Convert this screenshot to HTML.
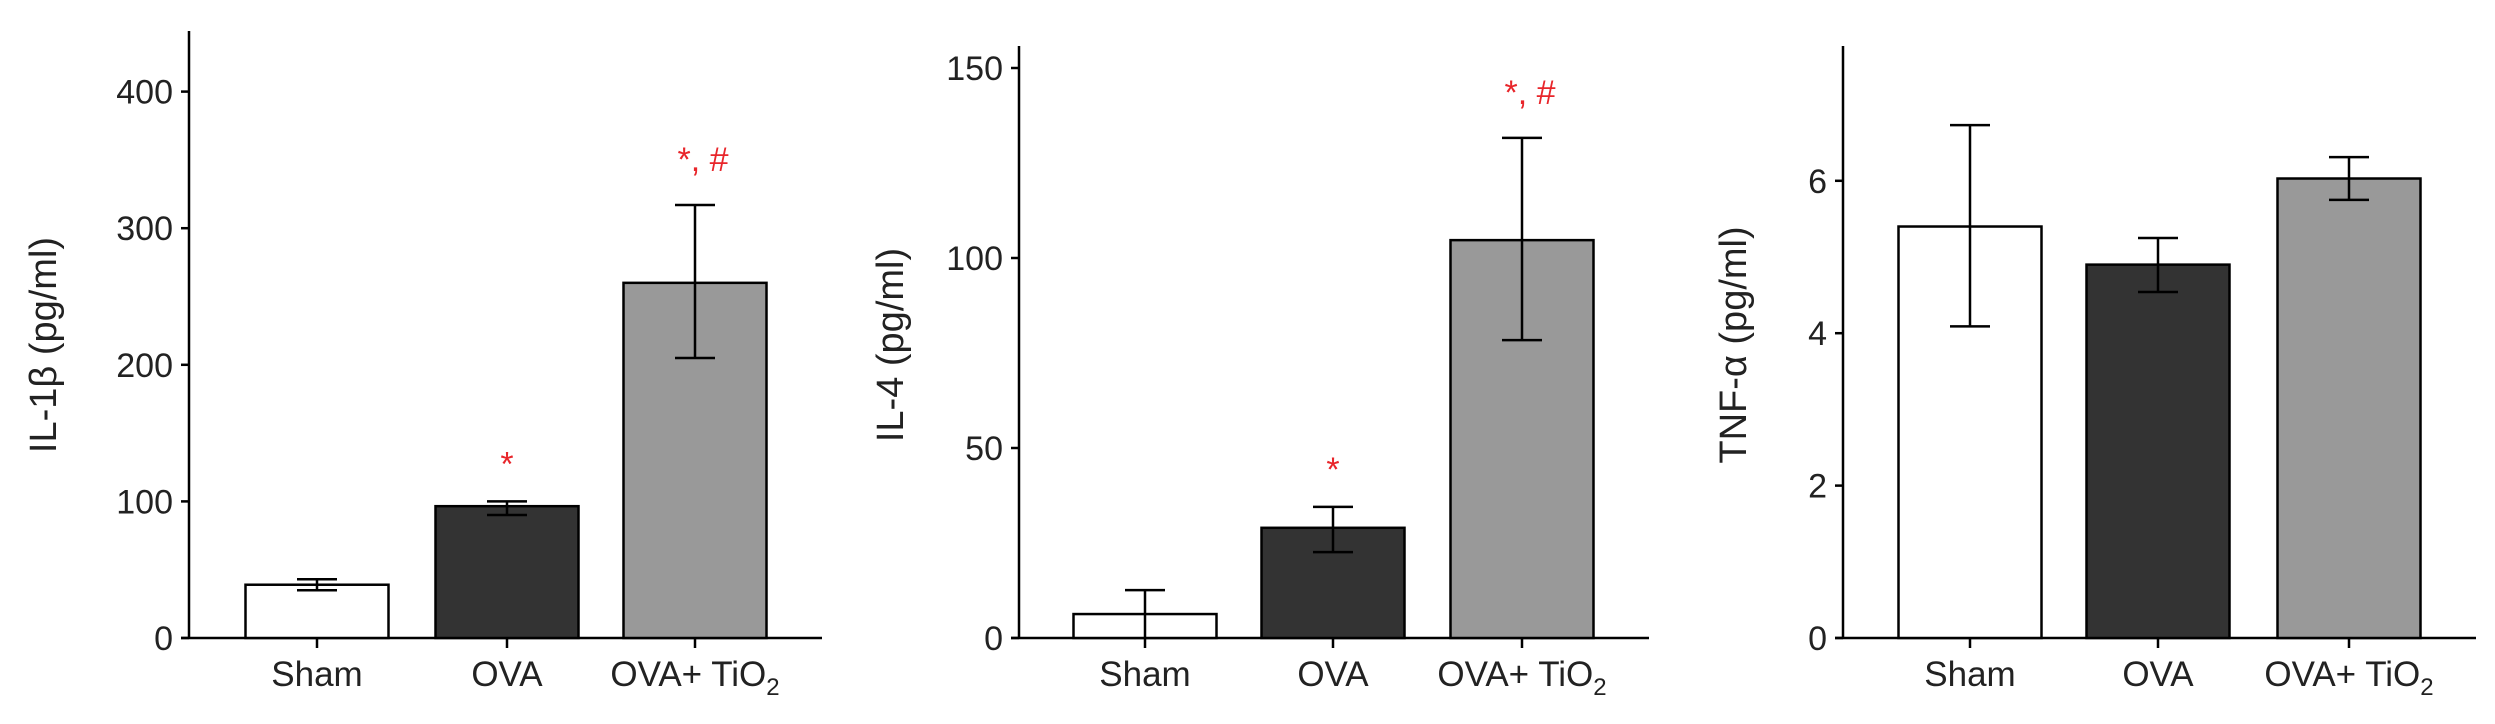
<!DOCTYPE html>
<html><head><meta charset="utf-8">
<style>
body{margin:0;background:#fff;}
svg{display:block;font-family:"Liberation Sans",Arial,sans-serif;}
</style></head>
<body>
<svg id="chart" width="2495" height="724" viewBox="0 0 2495 724"></svg>
<script>
const categories = ["Sham", "OVA", "OVA+ TiO2"];
const il1bValues = [39, 96.5, 260];
const il1bErrHigh = [43, 100, 317];
const il1bErrLow = [35, 90, 205];
const il1bTicks = [0, 100, 200, 300, 400];
const il4Values = [6.3, 29, 104.7];
const il4ErrHigh = [12.6, 34.5, 131.6];
const il4ErrLow = [0, 22.6, 78.4];
const il4Ticks = [0, 50, 100, 150];
const tnfValues = [5.4, 4.9, 6.03];
const tnfErrHigh = [6.73, 5.25, 6.31];
const tnfErrLow = [4.09, 4.54, 5.75];
const tnfTicks = [0, 2, 4, 6];
const il1bMarks = ["", "*", "*, #"];
const il4Marks = ["", "*", "*, #"];
const tnfMarks = ["", "", ""];

const NS = "http://www.w3.org/2000/svg";
const svg = document.getElementById("chart");
const fills = ["#ffffff", "#333333", "#999999"];

function mk(tag, attrs, parent) {
  const e = document.createElementNS(NS, tag);
  for (const k in attrs) e.setAttribute(k, attrs[k]);
  (parent || svg).appendChild(e);
  return e;
}

function panel(cfg) {
  const g = mk("g", {});
  
  
  const base = 638;
  const y = v => base - v * cfg.pxPerUnit;
  const x = i => cfg.catX[i];
  const ya = mk("line", {x1: cfg.axisX, y1: cfg.top, x2: cfg.axisX, y2: base, stroke: "#000", "stroke-width": 2.5}, g);
  
  
  const xa = mk("line", {x1: cfg.axisX - 8, y1: base, x2: cfg.axisEnd, y2: base, stroke: "#000", "stroke-width": 2.5}, g);
  
  
  cfg.ticks.forEach(t => {
    const tl = mk("line", {x1: cfg.axisX - 8, y1: y(t), x2: cfg.axisX, y2: y(t), stroke: "#000", "stroke-width": 2.5}, g);
    
    
    const tx = mk("text", {x: cfg.axisX - 16, y: y(t) + 12, "text-anchor": "end", "font-size": 34, fill: "#222"}, g);
    tx.textContent = t;
    
    
  });
  const title = mk("text", {transform: `translate(${cfg.titleX},${cfg.titleY}) rotate(-90)`, "text-anchor": "middle", "font-size": 38, fill: "#222"}, g);
  title.textContent = cfg.title;
  
  
  const bw = 143;
  categories.forEach((c, i) => {
    const v = cfg.values[i];
    const r = mk("rect", {x: x(i) - bw / 2, y: y(v), width: bw, height: base - y(v), fill: fills[i], stroke: "#000", "stroke-width": 2.5}, g);
    
    
    const eg = mk("g", {stroke: "#000", "stroke-width": 2.5}, g);
    
    
    const hi = y(cfg.errHigh[i]), lo = y(cfg.errLow[i]);
    mk("line", {x1: x(i), y1: hi, x2: x(i), y2: lo}, eg);
    mk("line", {x1: x(i) - 20, y1: hi, x2: x(i) + 20, y2: hi}, eg);
    if (cfg.errLow[i] > 0) mk("line", {x1: x(i) - 20, y1: lo, x2: x(i) + 20, y2: lo}, eg);
    const ct = mk("line", {x1: x(i), y1: base, x2: x(i), y2: base + 10, stroke: "#000", "stroke-width": 2.5}, g);
    
    
    const lab = mk("text", {x: x(i), y: 686, "text-anchor": "middle", "font-size": 35, fill: "#222"}, g);
    
    
    if (c.endsWith("TiO2")) {
      lab.textContent = "OVA+ TiO";
      const sub = mk("tspan", {"font-size": 24, dy: 9}, lab);
      sub.textContent = "2";
    } else lab.textContent = c;
    const m = cfg.marks[i];
    if (m) {
      const st = mk("text", {x: x(i) + (m.length > 1 ? 8 : 0), y: hi - (m.length > 1 ? 34 : 26), "text-anchor": "middle", "font-size": 34, fill: "#e8252a"}, g);
      st.textContent = m;
      
      
    }
  });
}

panel({name: "il1b-panel", axisX: 189, top: 31, axisEnd: 822, pxPerUnit: 1.366, catX: [317, 507, 695],
  ticks: il1bTicks, values: il1bValues, errHigh: il1bErrHigh, errLow: il1bErrLow, marks: il1bMarks,
  title: "IL-1β  (pg/ml)", titleX: 56, titleY: 345});
panel({name: "il4-panel", axisX: 1019, top: 46, axisEnd: 1649, pxPerUnit: 3.8, catX: [1145, 1333, 1522],
  ticks: il4Ticks, values: il4Values, errHigh: il4ErrHigh, errLow: il4ErrLow, marks: il4Marks,
  title: "IL-4  (pg/ml)", titleX: 903, titleY: 345});
panel({name: "tnf-panel", axisX: 1843, top: 46, axisEnd: 2476, pxPerUnit: 76.2, catX: [1970, 2158, 2349],
  ticks: tnfTicks, values: tnfValues, errHigh: tnfErrHigh, errLow: tnfErrLow, marks: tnfMarks,
  title: "TNF-α  (pg/ml)", titleX: 1746, titleY: 345});
</script>
</body></html>
